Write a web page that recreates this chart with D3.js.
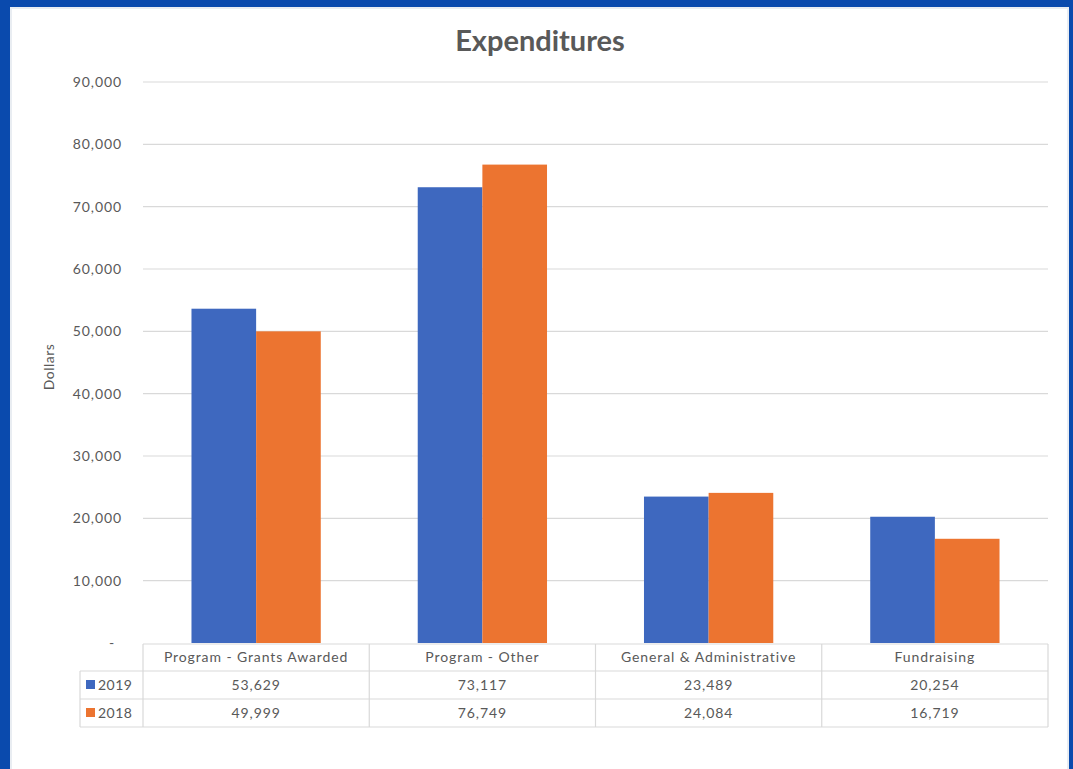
<!DOCTYPE html>
<html><head><meta charset="utf-8">
<script src="https://cdn.jsdelivr.net/npm/d3@7"></script>
<style>
html,body{margin:0;padding:0;background:#fff;}
svg{display:block;}
</style></head>
<body>
<script>
const categories = ["Program - Grants Awarded", "Program - Other", "General & Administrative", "Fundraising"];
const seriesNames = ["2019", "2018"];
const values2019 = [53629, 73117, 23489, 20254];
const values2018 = [49999, 76749, 24084, 16719];
const yTicks = [0, 10000, 20000, 30000, 40000, 50000, 60000, 70000, 80000, 90000];
const colors = ["#3e68bf", "#ec7430"];

const W = 1073, H = 769;
const svg = d3.select("body").append("svg").attr("width", W).attr("height", H);
const font = "Lato, 'Open Sans', sans-serif";
const ls = 0.9;

// frame
svg.append("rect").attr("x",0).attr("y",0).attr("width",W).attr("height",H).attr("fill","#0a4aad");
svg.append("rect").attr("x",10).attr("y",7).attr("width",1059).attr("height",H-7).attr("fill","#e9edf2");
svg.append("rect").attr("x",12).attr("y",9).attr("width",1055).attr("height",H-9).attr("fill","#ffffff");

const x0 = d3.scaleBand().domain(categories).range([143, 1048]).paddingInner(0).paddingOuter(0);
const x1 = d3.scaleBand().domain(seriesNames).range([0, x0.bandwidth()]).paddingInner(0).paddingOuter(0.75);
const y = d3.scaleLinear().domain([0, 90000]).range([643, 82]);

// grid
svg.append("g").selectAll("line").data(yTicks.slice(1)).join("line")
  .attr("x1",143).attr("x2",1048).attr("y1",d=>y(d)).attr("y2",d=>y(d))
  .attr("stroke","#d9d9d9").attr("stroke-width",1.2);

// y labels
const fmt = d3.format(",");
svg.append("g").selectAll("text").data(yTicks).join("text")
  .attr("x", d => d===0 ? 112 : 122).attr("y", d=>y(d)).attr("dy","0.35em")
  .attr("text-anchor", d=> d===0 ? "middle" : "end")
  .attr("font-family",font).attr("font-size",14).attr("letter-spacing",ls).attr("fill","#595959")
  .text(d => d===0 ? "-" : fmt(d));

// y title
svg.append("text").attr("transform","translate(54,367) rotate(-90)")
  .attr("text-anchor","middle").attr("font-family",font).attr("font-size",14).attr("letter-spacing",0.5).attr("fill","#595959")
  .text("Dollars");

// title
svg.append("text").attr("x",540).attr("y",51).attr("text-anchor","middle")
  .attr("font-family",font).attr("font-weight","bold").attr("font-size",29).attr("fill","#595959")
  .text("Expenditures");

// bars
const data = [values2019, values2018];
const g = svg.append("g");
seriesNames.forEach((s,si)=>{
  g.selectAll(null).data(categories).join("rect")
    .attr("x", c => x0(c) + x1(s))
    .attr("width", x1.bandwidth())
    .attr("y", (c,i)=> y(data[si][i]))
    .attr("height", (c,i)=> y(0)-y(data[si][i]))
    .attr("fill", colors[si]);
});

// data table
const rowTop = 644, rowH = [27, 28, 28];
const rowY = [rowTop, rowTop+rowH[0], rowTop+rowH[0]+rowH[1], rowTop+rowH[0]+rowH[1]+rowH[2]];
const tbl = svg.append("g").attr("stroke","#d9d9d9").attr("stroke-width",1.2).attr("fill","none");
tbl.append("line").attr("x1",143).attr("x2",1048).attr("y1",rowY[0]).attr("y2",rowY[0]);
[1,2,3].forEach(i=> tbl.append("line").attr("x1",80).attr("x2",1048).attr("y1",rowY[i]).attr("y2",rowY[i]));
tbl.append("line").attr("x1",80).attr("x2",80).attr("y1",rowY[1]).attr("y2",rowY[3]);
categories.forEach(c=> tbl.append("line").attr("x1",x0(c)).attr("x2",x0(c)).attr("y1",rowY[0]).attr("y2",rowY[3]));
tbl.append("line").attr("x1",1048).attr("x2",1048).attr("y1",rowY[0]).attr("y2",rowY[3]);

svg.append("g").selectAll("text").data(categories).join("text")
  .attr("x", c=> x0(c)+x0.bandwidth()/2).attr("y",(rowY[0]+rowY[1])/2).attr("dy","0.35em")
  .attr("text-anchor","middle").attr("font-family",font).attr("font-size",14).attr("letter-spacing",ls).attr("fill","#595959")
  .text(c=>c);

seriesNames.forEach((s,si)=>{
  const cy = (rowY[si+1]+rowY[si+2])/2;
  svg.append("rect").attr("x",86).attr("y",cy-5).attr("width",9).attr("height",9).attr("fill",colors[si]);
  svg.append("text").attr("x",98).attr("y",cy).attr("dy","0.35em")
    .attr("font-family",font).attr("font-size",14).attr("letter-spacing",0.5).attr("fill","#595959").text(s);
  svg.append("g").selectAll("text").data(categories).join("text")
    .attr("x", c=> x0(c)+x0.bandwidth()/2).attr("y",cy).attr("dy","0.35em")
    .attr("text-anchor","middle").attr("font-family",font).attr("font-size",14).attr("letter-spacing",ls).attr("fill","#595959")
    .text((c,i)=> fmt(data[si][i]));
});
</script>
</body></html>
